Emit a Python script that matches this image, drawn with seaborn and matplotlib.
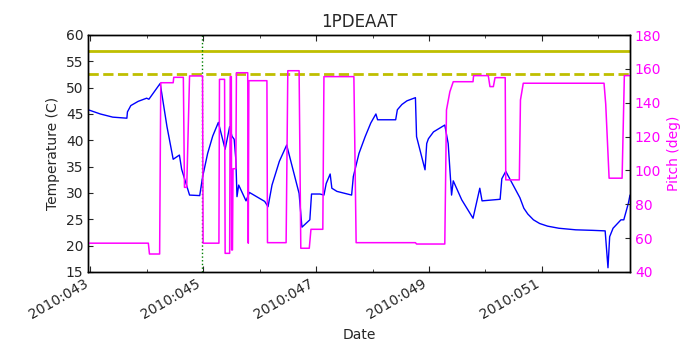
import numpy as np
import pandas as pd
import matplotlib
matplotlib.use("Agg")
import matplotlib.pyplot as plt
from matplotlib.ticker import FuncFormatter, MultipleLocator
import seaborn as sns

# day-of-year 2010 vs. temperature (C)
temp_day = [42.965, 43.18, 43.40, 43.65, 43.66, 43.72, 43.85, 44.00, 44.04, 44.24, 44.36,
            44.47, 44.58, 44.62, 44.76, 44.94, 44.99, 45.08, 45.17, 45.27, 45.39, 45.47,
            45.51, 45.55, 45.58, 45.60, 45.63, 45.76, 45.82, 46.09, 46.15, 46.22, 46.35,
            46.48, 46.70, 46.75, 46.89, 46.92, 47.07, 47.14, 47.18, 47.25, 47.28, 47.37,
            47.63, 47.66, 47.76, 47.87, 47.97, 48.06, 48.09, 48.41, 48.44, 48.52, 48.61,
            48.76, 48.78, 48.93, 48.96, 48.99, 49.08, 49.28, 49.34, 49.40, 49.43, 49.58,
            49.78, 49.90, 49.94, 50.26, 50.29, 50.36, 50.61, 50.68, 50.75, 50.85, 50.96,
            51.10, 51.30, 51.60, 51.90, 52.12, 52.17, 52.20, 52.26, 52.40, 52.45, 52.53,
            52.56]
temp_val = [45.8, 45.0, 44.4, 44.2, 45.4, 46.6, 47.4, 48.0, 47.8, 50.8, 42.6,
            36.4, 37.2, 34.5, 29.6, 29.5, 33.0, 37.5, 40.8, 43.4, 38.3, 42.6,
            40.8, 40.2, 36.3, 29.3, 31.5, 28.5, 30.1, 28.4, 27.4, 31.5, 36.0,
            39.1, 29.9, 23.5, 24.9, 29.8, 29.8, 29.6, 31.8, 33.6, 30.9, 30.3,
            29.6, 33.1, 37.5, 40.7, 43.3, 45.0, 43.9, 43.9, 45.8, 46.8, 47.5,
            48.1, 40.7, 34.4, 39.4, 40.3, 41.6, 42.9, 39.4, 29.6, 32.3, 28.7,
            25.2, 30.9, 28.5, 28.8, 32.7, 34.1, 29.1, 27.1, 26.0, 24.9, 24.2,
            23.7, 23.3, 23.0, 22.9, 22.8, 15.8, 21.7, 23.3, 24.9, 24.9, 28.0,
            29.6]

# day-of-year 2010 vs. pitch (deg)
pitch_day = [42.965, 44.03, 44.05, 44.23, 44.25, 44.47, 44.48, 44.65, 44.67, 44.71, 44.76,
             44.99, 45.00, 45.28, 45.29, 45.38, 45.39, 45.47, 45.48, 45.50, 45.505, 45.52,
             45.53, 45.58, 45.59, 45.79, 45.80, 45.81, 46.13, 46.14, 46.47, 46.50, 46.70,
             46.73, 46.88, 46.91, 47.12, 47.14, 47.67, 47.71, 48.76, 48.78, 49.28, 49.31,
             49.37, 49.43, 49.78, 49.79, 50.05, 50.08, 50.14, 50.17, 50.35, 50.36, 50.60,
             50.62, 50.67, 52.10, 52.13, 52.19, 52.42, 52.46, 52.56]
pitch_val = [57.0, 57.0, 50.6, 50.6, 151.8, 151.8, 155.0, 155.0, 90.0, 90.0, 155.8,
             155.8, 57.0, 57.0, 153.8, 153.8, 51.0, 51.0, 155.4, 155.4, 53.0, 53.0,
             101.0, 101.0, 157.7, 157.7, 57.0, 153.0, 153.0, 57.3, 57.3, 158.9, 158.9,
             54.0, 54.0, 65.2, 65.2, 155.4, 155.4, 57.3, 57.3, 56.5, 56.5, 135.7,
             146.5, 152.4, 152.4, 156.0, 156.0, 149.5, 149.5, 154.8, 154.8, 94.4, 94.4,
             141.6, 151.5, 151.5, 139.2, 95.4, 95.4, 156.0, 156.0]

planning_limit = 57.0
caution_limit = 52.5
marker_day = 44.98

date_ticks = [43, 45, 47, 49, 51]

sns.set_style("ticks", {"xtick.direction": "in", "ytick.direction": "in"})
plt.rcParams["font.family"] = ["DejaVu Sans"]
plt.rcParams["font.size"] = 10

temp_df = pd.DataFrame({"day": temp_day, "temp": temp_val})
pitch_df = pd.DataFrame({"day": pitch_day, "pitch": pitch_val})

fig = plt.figure(figsize=(7, 3.5), dpi=100)
ax = fig.add_axes([0.126, 0.223, 0.774, 0.677])

sns.lineplot(data=temp_df, x="day", y="temp", ax=ax, color="blue", linewidth=1.0,
             sort=False, estimator=None)
ax.axhline(planning_limit, color=(0.75, 0.75, 0), linewidth=2)
ax.axhline(caution_limit, color=(0.75, 0.75, 0), linewidth=2, linestyle="--")
ax.axvline(marker_day, color="green", linestyle=":", linewidth=1)

ax.set_xlim(42.965, 52.56)
ax.set_ylim(15, 60)
ax.yaxis.set_major_locator(MultipleLocator(5))
ax.set_xticks(date_ticks)
ax.xaxis.set_minor_locator(MultipleLocator(1))
ax.xaxis.set_major_formatter(FuncFormatter(lambda v, p: "2010:%03d" % int(round(v))))
ax.tick_params(axis="x", which="both", top=True)
ax.tick_params(axis="x", which="major", length=4)
ax.tick_params(axis="x", which="minor", length=2)
for lbl in ax.get_xticklabels():
    lbl.set_rotation(30)
    lbl.set_ha("right")
ax.set_xlabel("Date")
ax.set_ylabel("Temperature (C)")
ax.set_title("1PDEAAT", fontsize=12)

ax2 = ax.twinx()
sns.lineplot(data=pitch_df, x="day", y="pitch", ax=ax2, color="magenta", linewidth=1.1,
             sort=False, estimator=None)
ax2.set_ylim(40, 180)
ax2.yaxis.set_major_locator(MultipleLocator(20))
ax2.tick_params(axis="y", direction="in", labelcolor="magenta")
ax2.set_ylabel("Pitch (deg)", color="magenta")
ax2.set_xlim(42.965, 52.56)

for a in (ax, ax2):
    for s in a.spines.values():
        s.set_visible(True)
        s.set_color("black")
        s.set_linewidth(1.0)

fig.savefig("out.png", dpi=100)
